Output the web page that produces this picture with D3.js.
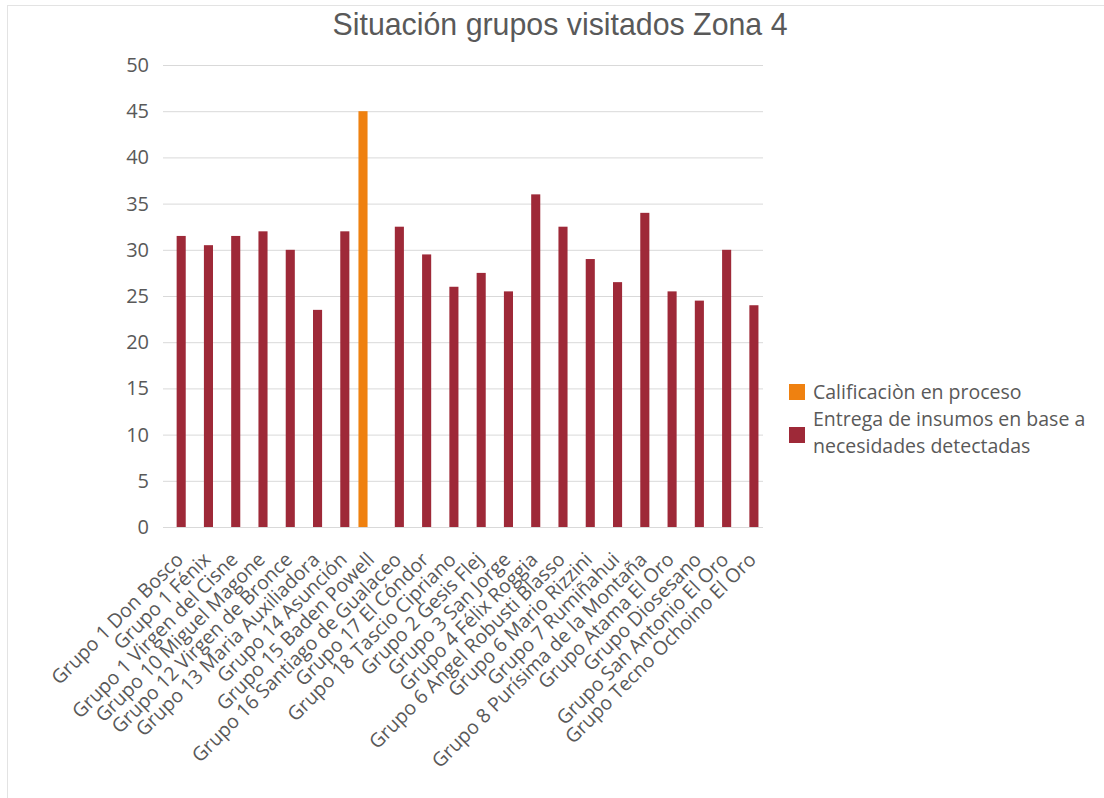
<!DOCTYPE html>
<html>
<head>
<meta charset="utf-8">
<script src="https://cdn.jsdelivr.net/npm/d3@7"></script>
<style>
  body { margin: 0; background: #fff; }
  text { font-family: "Open Sans", sans-serif; fill: #595959; }
</style>
</head>
<body>
<svg class="chart"></svg>
<script>
// data
const categories = [
  "Grupo 1 Don Bosco", "Grupo 1 Fénix", "Grupo 1 Virgen del Cisne",
  "Grupo 10 Miguel Magone", "Grupo 12 Virgen de Bronce", "Grupo 13 Maria Auxiliadora",
  "Grupo 14 Asunción", "Grupo 15 Baden Powell", "Grupo 16 Santiago de Gualaceo",
  "Grupo 17 El Cóndor", "Grupo 18 Tascio Cipriano", "Grupo 2 Gesis Flej",
  "Grupo 3 San Jorge", "Grupo 4 Félix Roggia", "Grupo 6 Angel Robusti Blasso",
  "Grupo 6 Mario Rizzini", "Grupo 7 Rumiñahui", "Grupo 8 Purísima de la Montaña",
  "Grupo Atama El Oro", "Grupo Diosesano", "Grupo San Antonio El Oro",
  "Grupo Tecno Ochoino El Oro"
]
const seriesNames = ["Calificaciòn en proceso", "Entrega de insumos en base a necesidades detectadas"]
const calificacion = [null, null, null, null, null, null, null, 45, null, null, null,
  null, null, null, null, null, null, null, null, null, null, null]
const entrega = [31.5, 30.5, 31.5, 32, 30, 23.5, 32, null, 32.5, 29.5, 26,
  27.5, 25.5, 36, 32.5, 29, 26.5, 34, 25.5, 24.5, 30, 24]
const yTicks = [0, 5, 10, 15, 20, 25, 30, 35, 40, 45, 50]
const colors = ["#EF8110", "#9E2938"]

const width = 1104, height = 798
const plot = { left: 163, right: 763, top: 65, bottom: 527 }

let svg = d3.select(".chart")
  .attr("width", width)
  .attr("height", height)

// chart frame
svg.append("rect")
  .attr("x", 7.5).attr("y", 5.5)
  .attr("width", 1200).attr("height", 1000)
  .attr("fill", "#fff")
  .attr("stroke", "#e3e3e3")

svg.append("text")
  .attr("x", 560).attr("y", 35)
  .attr("text-anchor", "middle")
  .attr("textLength", 455)
  .attr("lengthAdjust", "spacingAndGlyphs")
  .style("font-family", "'Liberation Sans', Arial, sans-serif")
  .style("font-size", "32px")
  .text("Situación grupos visitados Zona 4")

let x = d3.scaleBand()
  .domain(categories)
  .range([plot.left, plot.right])

let xSub = d3.scaleBand()
  .domain(seriesNames)
  .range([0, x.bandwidth()])
  .paddingOuter(0.5)

let y = d3.scaleLinear()
  .domain([0, 50])
  .range([plot.bottom, plot.top])

// gridlines + y labels
let yAxis = d3.axisLeft(y)
  .tickValues(yTicks)
  .tickSize(-(plot.right - plot.left))
  .tickPadding(14)

svg.append("g")
  .attr("class", "y-axis")
  .attr("transform", "translate(" + plot.left + ",0)")
  .call(yAxis)
  .call(g => g.select(".domain").remove())
  .call(g => g.selectAll("line").attr("stroke", "#d9d9d9"))
  .call(g => g.selectAll("text").style("font-size", "20px").attr("fill", "#595959"))

// bars
let table = categories.map((c, i) => ({ cat: c, vals: [calificacion[i], entrega[i]] }))

let groups = svg.append("g")
  .selectAll("g")
  .data(table)
  .join("g")
  .attr("transform", d => "translate(" + x(d.cat) + ",0)")

groups.selectAll("rect")
  .data(d => d.vals.map((v, k) => ({ k: k, v: v })).filter(e => e.v != null))
  .join("rect")
  .attr("x", e => xSub(seriesNames[e.k]))
  .attr("width", xSub.bandwidth())
  .attr("y", e => y(e.v))
  .attr("height", e => y(0) - y(e.v))
  .attr("fill", e => colors[e.k])

// x labels, rotated
svg.append("g")
  .selectAll("text")
  .data(categories)
  .join("text")
  .attr("transform", d => "translate(" + (x(d) + x.bandwidth() / 2 + 3) + ",556) rotate(-45)")
  .attr("text-anchor", "end")
  .attr("dy", "0.35em")
  .style("font-size", "19.5px")
  .text(d => d)

// legend
let legend = svg.append("g")
  .attr("transform", "translate(789,0)")

legend.append("rect")
  .attr("x", 0).attr("y", 384)
  .attr("width", 16).attr("height", 16)
  .attr("fill", colors[0])
legend.append("text")
  .attr("x", 24).attr("y", 399)
  .style("font-size", "19.5px")
  .text(seriesNames[0])

legend.append("rect")
  .attr("x", 0).attr("y", 427)
  .attr("width", 16).attr("height", 16)
  .attr("fill", colors[1])
legend.append("text")
  .attr("x", 24).attr("y", 426)
  .style("font-size", "19.5px")
  .text("Entrega de insumos en base a")
legend.append("text")
  .attr("x", 24).attr("y", 453)
  .style("font-size", "19.5px")
  .text("necesidades detectadas")
</script>
</body>
</html>
